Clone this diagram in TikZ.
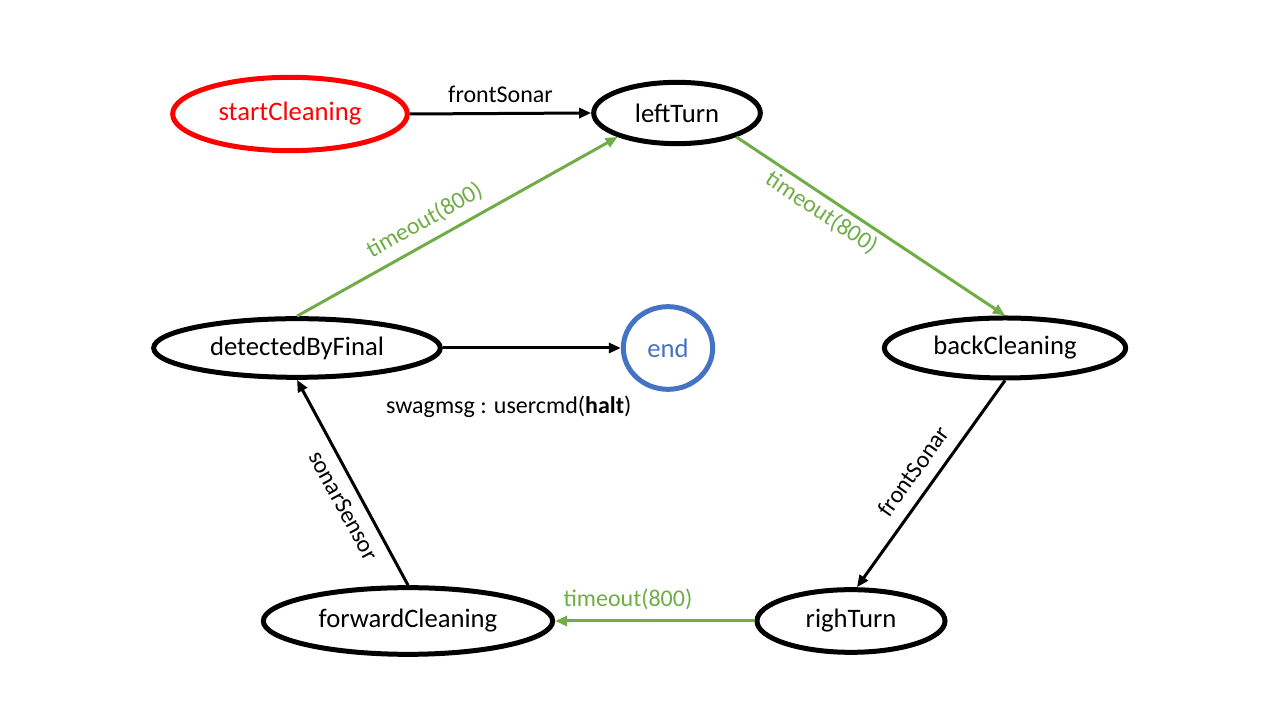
\documentclass[tikz,border=0pt]{standalone}
\usepackage{fontspec}
\setmainfont{Carlito}
\usepackage{xcolor}
\usepackage{tikz}
\usetikzlibrary{shapes}
\usetikzlibrary{arrows.meta}

\definecolor{stateRed}{RGB}{255,0,0}
\definecolor{stateBlue}{RGB}{68,114,196}
\definecolor{timeGreen}{RGB}{112,173,71}

\begin{document}
\begin{tikzpicture}[x=0.75pt,y=0.75pt,
		state/.style={draw=black, ellipse, line width=3.75pt, inner sep=0pt, font=\fontsize{20}{24}\selectfont},
		trans/.style={line width=2.25pt, -{Triangle[length=9pt,width=7.5pt]}},
		timeout/.style={trans, draw=timeGreen, fill=timeGreen},
		lbl/.style={font=\fontsize{18}{22}\selectfont, inner sep=7pt},
		greenlbl/.style={lbl, text=timeGreen}]
		%set diagram size 1280 x 720
		\path (0,0) rectangle (1280,720);
		
		%States
		\node [state, draw=stateRed, text=stateRed, minimum width=176pt, minimum height=55pt] (startCleaning) at (290,606) {startCleaning};
		\node [state, minimum width=125pt, minimum height=46pt] (leftTurn) at (677,607) {leftTurn};
		\node [state, minimum width=215pt, minimum height=44pt] (detectedByFinal) at (297,372) {detectedByFinal};
		\node [state, draw=stateBlue, text=stateBlue, minimum width=67pt, minimum height=62pt] (end) at (668,372) {end};
		\node [state, minimum width=181pt, minimum height=45pt] (backCleaning) at (1005,372) {backCleaning};
		\node [state, minimum width=217pt, minimum height=50pt] (forwardCleaning) at (408,99) {forwardCleaning};
		\node [state, minimum width=141pt, minimum height=47pt] (righTurn) at (851,99) {righTurn};
		
		%Transitions
		\draw [trans] (startCleaning.east) -- (leftTurn.west) node [lbl, midway, above] {frontSonar};
		\draw [timeout] (detectedByFinal.north) -- (leftTurn.202) node [greenlbl, pos=0.43, above, sloped] {timeout(800)};
		\draw [timeout] (leftTurn.338) -- (backCleaning.north) node [greenlbl, pos=0.35, below, sloped, inner sep=3pt] {timeout(800)};
		\draw [trans] (backCleaning.south) -- (righTurn.80) node [lbl, pos=0.5, above, sloped, inner sep=9pt] {frontSonar};
		\draw [timeout] (righTurn.west) -- (forwardCleaning.east) node [greenlbl, pos=0.635, above] {timeout(800)};
		\draw [trans] (forwardCleaning.north) -- (detectedByFinal.south) node [lbl, pos=0.43, below, sloped] {sonarSensor};
		\draw [trans] (detectedByFinal.east) -- (end.west) node [lbl, pos=0.37, below, yshift=-28pt] {swagmsg : usercmd(\textbf{halt})};
		
\end{tikzpicture}
\end{document}
